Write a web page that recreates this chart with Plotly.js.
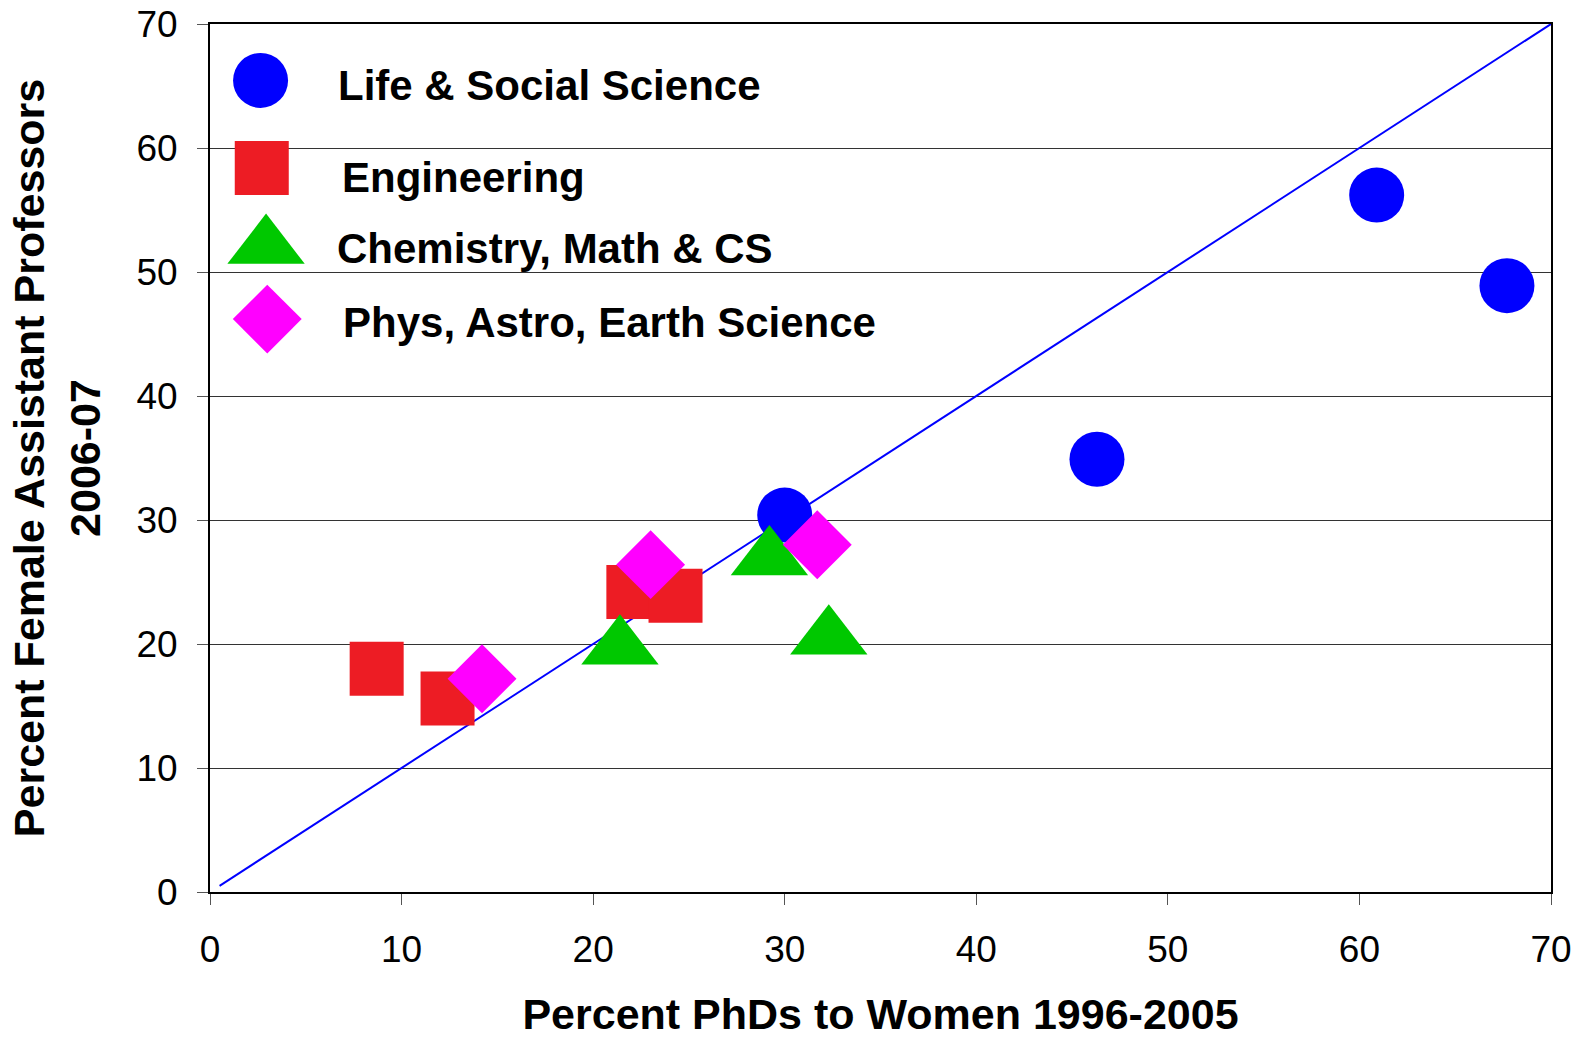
<!DOCTYPE html>
<html>
<head>
<meta charset="utf-8">
<script src="https://cdn.plot.ly/plotly-3.0.1.min.js"></script>
<style>
html,body{margin:0;padding:0;background:#fff;}
#chart{width:1579px;height:1038px;}
</style>
</head>
<body>
<div id="chart"></div>
<script>
// ---- data ----
const seriesNames = ["Life & Social Science", "Engineering", "Chemistry, Math & CS", "Phys, Astro, Earth Science"];
const lifeX = [30.0, 46.3, 60.9, 67.7];
const lifeY = [30.4, 34.9, 56.2, 48.9];
const engX = [8.7, 12.4, 22.1, 24.3];
const engY = [18.0, 15.6, 24.2, 23.9];
const chemX = [21.4, 29.2, 32.3];
const chemY = [19.7, 26.9, 20.5];
const physX = [14.2, 23.0, 31.7];
const physY = [17.2, 26.4, 28.0];
const parityX = [0.5, 70];
const parityY = [0.5, 70];
const tickVals = [0, 10, 20, 30, 40, 50, 60, 70];

// ---- styles ----
const colors = ["#0000ff", "#ed1c24", "#00c800", "#ff00ff"];
const symbols = ["circle", "square", "triangle-up", "diamond"];
const sizes = [55, 54, 67, 53];
// legend layout (paper fractions of plot area)
const legMarkX = [0.0377, 0.0386, 0.0418, 0.0427];
const legMarkY = [0.935, 0.834, 0.743, 0.660];
const legTextX = [0.0937, 0.0973, 0.0930, 0.0980];
const legTextY = [0.9297, 0.8237, 0.7410, 0.6559];

const font = "Arial, 'Liberation Sans', sans-serif";
const seriesX = [lifeX, engX, chemX, physX];
const seriesY = [lifeY, engY, chemY, physY];

const traces = [{
  x: parityX, y: parityY, mode: "lines", type: "scatter",
  line: {color: "#0000ff", width: 2}, showlegend: false, hoverinfo: "skip"
}];
// draw order: engineering, life, chem, phys
[1, 0, 2, 3].forEach(i => {
  traces.push({
    x: seriesX[i], y: seriesY[i], mode: "markers", type: "scatter", name: seriesNames[i],
    marker: {color: colors[i], symbol: symbols[i], size: sizes[i], line: {width: 0}},
    showlegend: false, cliponaxis: false
  });
});
// manual legend markers
for (let i = 0; i < 4; i++) {
  traces.push({
    x: [legMarkX[i]], y: [legMarkY[i]], xaxis: "x2", yaxis: "y2", mode: "markers", type: "scatter",
    marker: {color: colors[i], symbol: symbols[i], size: sizes[i], line: {width: 0}},
    showlegend: false, hoverinfo: "skip", cliponaxis: false
  });
}

const annotations = seriesNames.map((n, i) => ({
  xref: "paper", yref: "paper", x: legTextX[i], y: legTextY[i],
  xanchor: "left", yanchor: "middle", text: "<b>" + n + "</b>", showarrow: false,
  font: {family: font, size: 42, color: "#000"}
}));

const layout = {
  width: 1579, height: 1038,
  margin: {l: 210, r: 28, t: 24, b: 146},
  paper_bgcolor: "#fff", plot_bgcolor: "#fff",
  showlegend: false,
  font: {family: font, color: "#000"},
  xaxis: {
    range: [0, 70], tickvals: tickVals, ticktext: tickVals.map(String),
    showgrid: false, zeroline: false,
    showline: true, linecolor: "#000", linewidth: 2, mirror: true,
    ticks: "outside", ticklen: 11, tickwidth: 1, tickcolor: "#555",
    ticklabelstandoff: 13,
    tickfont: {family: font, size: 37, color: "#000"},
    title: {text: "<b>Percent PhDs to Women 1996-2005</b>", font: {family: font, size: 43, color: "#000"}, standoff: 58},
    fixedrange: true
  },
  yaxis: {
    range: [0, 70], tickvals: tickVals, ticktext: tickVals.map(String),
    showgrid: true, gridcolor: "#333", gridwidth: 1, zeroline: false,
    showline: true, linecolor: "#000", linewidth: 2, mirror: true,
    ticks: "outside", ticklen: 11, tickwidth: 1, tickcolor: "#555",
    ticklabelstandoff: 12,
    tickfont: {family: font, size: 37, color: "#000"},
    title: {text: "<b>Percent Female Assistant Professors<br>2006-07</b>", font: {family: font, size: 43, color: "#000"}, standoff: 22},
    fixedrange: true
  },
  xaxis2: {overlaying: "x", range: [0, 1], visible: false, fixedrange: true},
  yaxis2: {overlaying: "y", range: [0, 1], visible: false, fixedrange: true},
  annotations: annotations
};

Plotly.newPlot("chart", traces, layout, {displayModeBar: false, staticPlot: true});
</script>
</body>
</html>
